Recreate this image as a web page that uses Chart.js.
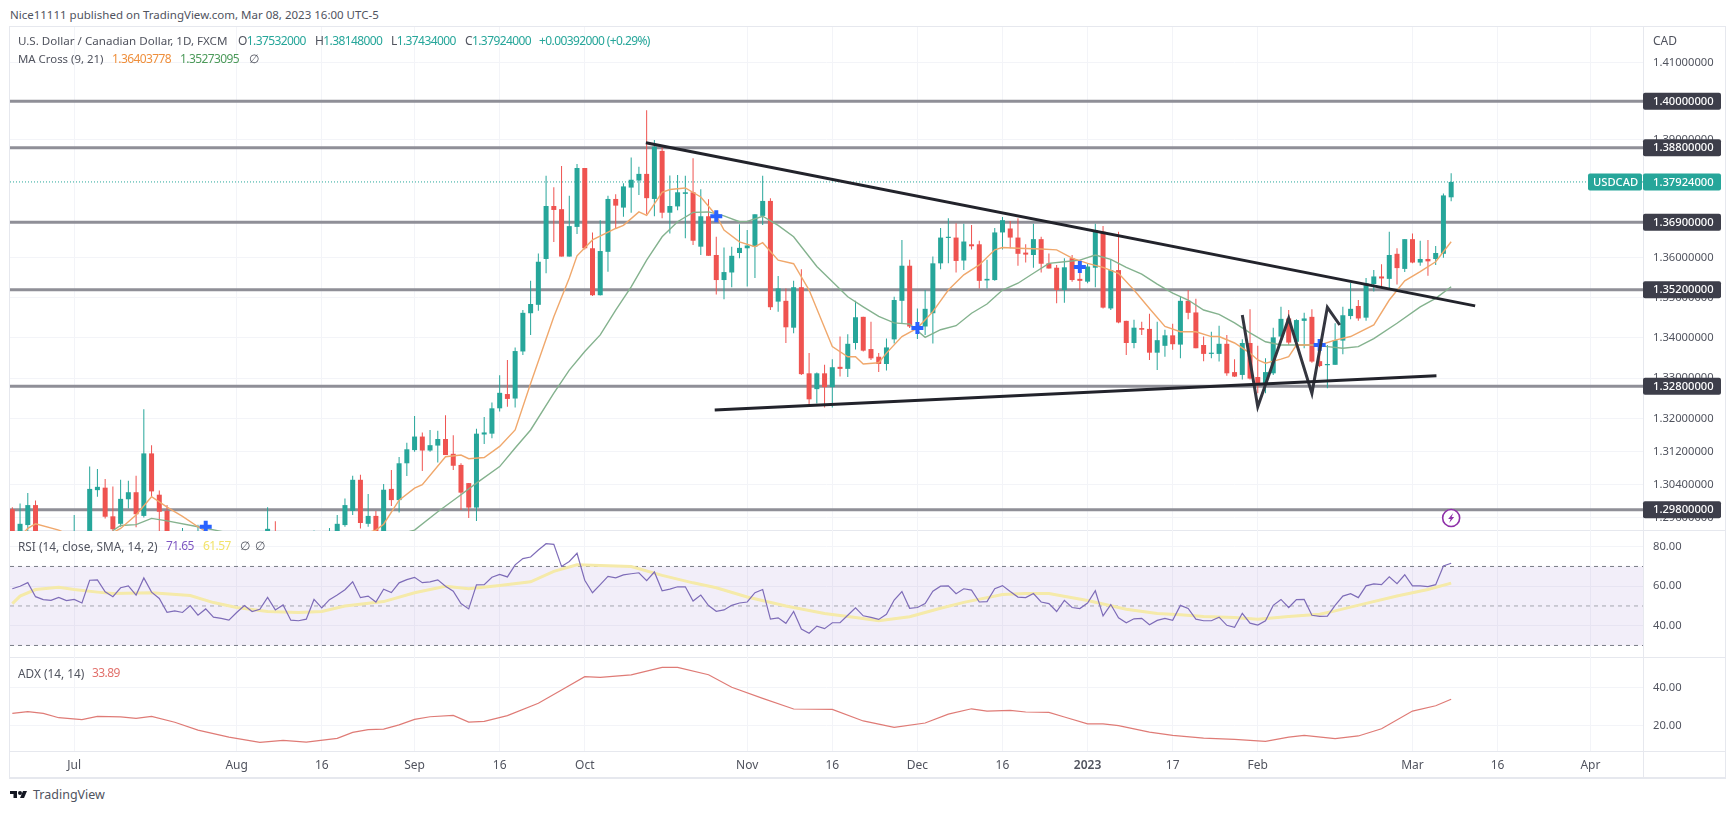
<!DOCTYPE html>
<html lang="en">
<head>
<meta charset="UTF-8" />
<title>USDCAD 1D</title>
<script src="https://cdn.jsdelivr.net/npm/chart.js@4"></script>
<style>
  html, body { margin: 0; background: #fff; }
  body { width: 1735px; height: 814px; position: relative; overflow: hidden; font-family: "Noto Sans", sans-serif; font-size: 12px; color: #50535e; }
  canvas { position: absolute; left: 10px; }
  .txt { position: absolute; white-space: nowrap; line-height: 16px; }
  .num { letter-spacing: -0.6px; }
  .sep { position: absolute; background: #e6e8ee; }
  .up { color: #26a69a; }
</style>
</head>
<body>
<div class="sep" style="left:9px;top:26px;width:1717px;height:1px"></div>
<div class="sep" style="left:9px;top:26px;width:1px;height:752px"></div>
<div class="sep" style="left:1725px;top:26px;width:1px;height:752px"></div>
<div class="sep" style="left:9px;top:777px;width:1717px;height:2px"></div>
<div class="sep" style="left:1643px;top:26px;width:1px;height:752px"></div>
<div class="sep" style="left:9px;top:530px;width:1717px;height:1px"></div>
<div class="sep" style="left:9px;top:657px;width:1717px;height:1px"></div>
<div class="sep" style="left:9px;top:751px;width:1717px;height:1px"></div>

<canvas id="priceChart" width="1715" height="504" style="top:27px"></canvas>
<canvas id="rsiChart" width="1715" height="126" style="top:531px"></canvas>
<canvas id="adxChart" width="1715" height="121" style="top:657px"></canvas>

<div class="txt" style="left:10px;top:7px;font-size:11.5px">Nice11111 published on TradingView.com, Mar 08, 2023 16:00 UTC-5</div>
<div class="txt" style="left:18px;top:33px;font-size:11.6px">U.S. Dollar / Canadian Dollar, 1D, FXCM</div>
<div class="txt num" style="left:238px;top:33px">O<span class="up">1.37532000</span></div>
<div class="txt num" style="left:315px;top:33px">H<span class="up">1.38148000</span></div>
<div class="txt num" style="left:391px;top:33px">L<span class="up">1.37434000</span></div>
<div class="txt num" style="left:465px;top:33px">C<span class="up">1.37924000</span></div>
<div class="txt up num" style="left:539px;top:33px">+0.00392000 (+0.29%)</div>
<div class="txt" style="left:18px;top:51px;font-size:11.4px">MA Cross (9, 21)</div>
<div class="txt num" style="left:112px;top:51px;color:#ef8f3c">1.36403778</div>
<div class="txt num" style="left:180px;top:51px;color:#4c9a5a">1.35273095</div>
<div class="txt" style="left:249px;top:51px">∅</div>
<div class="txt" style="left:1653px;top:33px">CAD</div>
<div class="txt" style="left:18px;top:538px;font-size:11.8px">RSI (14, close, SMA, 14, 2)</div>
<div class="txt num" style="left:166px;top:538px;color:#7e57c2">71.65</div>
<div class="txt num" style="left:203px;top:538px;color:#f2e36b">61.57</div>
<div class="txt" style="left:240px;top:538px">∅</div>
<div class="txt" style="left:255px;top:538px">∅</div>
<div class="txt" style="left:18px;top:665px;font-size:11.8px">ADX (14, 14)</div>
<div class="txt num" style="left:92px;top:665px;color:#e2716c">33.89</div>
<svg style="position:absolute;left:10px;top:788px" width="18" height="14" viewBox="0 0 36 28"><path fill="#131722" d="M14 6H0v6h7v8h7V6Z"/><path fill="#131722" d="M28 20h-8l6-14h8l-6 14Z"/><circle fill="#131722" cx="20" cy="10" r="4"/></svg>
<div class="txt" style="left:33px;top:787px;font-size:12.5px">TradingView</div>

<script>
const openPrice = [
  1.2981,1.2900,1.2943,1.2991,1.2890,1.2860,1.2900,1.2850,1.2870,1.2920,
  1.2890,1.3027,1.3033,1.2964,1.2946,1.3005,1.3022,1.2965,1.3116,1.3016,
  1.2977,1.2880,1.2850,1.2920,1.2860,1.2900,1.2840,1.2810,1.2840,1.2800,
  1.2830,1.2870,1.2850,1.2870,1.2920,1.2880,1.2850,1.2870,1.2900,1.2870,
  1.2910,1.2880,1.2915,1.2943,1.2977,1.3052,1.2946,1.2965,1.2915,1.3030,
  1.3003,1.3092,1.3124,1.3157,1.3123,1.3135,1.3151,1.3115,1.3088,1.3044,
  1.2985,1.3162,1.3164,1.3226,1.3261,1.3250,1.3366,1.3461,1.3482,1.3597,
  1.3731,1.3723,1.3603,1.3678,1.3828,1.3624,1.3506,1.3615,1.3749,1.3727,
  1.3778,1.3796,1.3813,1.3749,1.3872,1.3714,1.3730,1.3762,1.3766,1.3628,
  1.3705,1.3607,1.3544,1.3563,1.3612,1.3624,1.3628,1.3706,1.3744,1.3490,
  1.3492,1.3425,1.3526,1.3312,1.3273,1.3312,1.3278,1.3328,1.3323,1.3387,
  1.3452,1.3372,1.3353,1.3335,1.3396,1.3492,1.3580,1.3422,1.3428,1.3461,
  1.3586,1.3650,1.3651,1.3593,1.3634,1.3634,1.3543,1.3544,1.3664,1.3674,
  1.3651,1.3613,1.3607,1.3647,1.3586,1.3575,1.3519,1.3599,1.3547,1.3540,
  1.3575,1.3666,1.3473,1.3569,1.3442,1.3387,1.3424,1.3422,1.3363,1.3380,
  1.3406,1.3383,1.3492,1.3463,1.3382,1.3360,1.3360,1.3385,1.3315,1.3308,
  1.3387,1.3303,1.3288,1.3312,1.3403,1.3448,1.3390,1.3442,1.3452,1.3342,
  1.3332,1.3333,1.3393,1.3454,1.3479,1.3450,1.3534,1.3553,1.3547,1.3610,
  1.3572,1.3647,1.3588,1.3597,1.3597,1.3610,1.37532
];
const highPrice = [
  1.2986,1.2995,1.3020,1.3002,1.2925,1.2915,1.2920,1.2928,1.2967,1.2925,
  1.3084,1.3078,1.3054,1.3036,1.3052,1.3050,1.3062,1.3224,1.3136,1.3026,
  1.2991,1.2905,1.2936,1.2925,1.2944,1.2928,1.2890,1.2870,1.2880,1.2860,
  1.2895,1.2915,1.2900,1.2986,1.2952,1.2910,1.2895,1.2920,1.2925,1.2930,
  1.2925,1.2936,1.2967,1.3007,1.3062,1.3064,1.3018,1.2977,1.3042,1.3076,
  1.3107,1.3142,1.3207,1.3167,1.3173,1.3171,1.3209,1.3160,1.3092,1.3044,
  1.3176,1.3205,1.3240,1.3307,1.3345,1.3376,1.3469,1.3542,1.3611,1.3808,
  1.3779,1.3833,1.3757,1.3838,1.3828,1.3664,1.3695,1.3757,1.3761,1.3789,
  1.3855,1.3831,1.3977,1.3900,1.3883,1.3809,1.3810,1.3808,1.3853,1.3774,
  1.3748,1.3653,1.3626,1.3628,1.3685,1.3670,1.3710,1.3808,1.3751,1.3554,
  1.3523,1.3542,1.3571,1.3362,1.3314,1.3333,1.3347,1.3403,1.3409,1.3492,
  1.3452,1.3440,1.3362,1.3398,1.3502,1.3645,1.3595,1.3473,1.3519,1.3603,
  1.3675,1.3700,1.3687,1.3686,1.3683,1.3643,1.3595,1.3675,1.3703,1.3693,
  1.3700,1.3634,1.3686,1.3653,1.3611,1.3582,1.3599,1.3607,1.3595,1.3586,
  1.3686,1.3680,1.3595,1.3666,1.3442,1.3445,1.3440,1.3460,1.3440,1.3420,
  1.3435,1.3502,1.3519,1.3497,1.3403,1.3415,1.3430,1.3407,1.3347,1.3396,
  1.3471,1.3380,1.3349,1.3425,1.3477,1.3469,1.3446,1.3462,1.3471,1.3390,
  1.3382,1.3436,1.3477,1.3537,1.3494,1.3549,1.3569,1.3584,1.3666,1.3624,
  1.3647,1.3661,1.3643,1.3645,1.3630,1.3763,1.38148
];
const lowPrice = [
  1.2870,1.2880,1.2925,1.2870,1.2840,1.2820,1.2840,1.2830,1.2810,1.2850,
  1.2870,1.3011,1.2959,1.2925,1.2939,1.2983,1.2938,1.2961,1.3011,1.2925,
  1.2860,1.2830,1.2830,1.2840,1.2835,1.2820,1.2790,1.2770,1.2790,1.2770,
  1.2800,1.2830,1.2800,1.2840,1.2850,1.2830,1.2810,1.2840,1.2850,1.2840,
  1.2860,1.2860,1.2900,1.2939,1.2967,1.2935,1.2939,1.2900,1.2900,1.2989,
  1.2973,1.3061,1.3120,1.3073,1.3120,1.3094,1.3112,1.3076,1.2979,1.2960,
  1.2953,1.3139,1.3153,1.3218,1.3230,1.3228,1.3357,1.3407,1.3467,1.3561,
  1.3640,1.3603,1.3603,1.3660,1.3621,1.3504,1.3505,1.3565,1.3674,1.3704,
  1.3714,1.3759,1.3710,1.3705,1.3700,1.3661,1.3720,1.3649,1.3632,1.3607,
  1.3605,1.3508,1.3496,1.3526,1.3599,1.3528,1.3549,1.3683,1.3469,1.3465,
  1.3387,1.3411,1.3308,1.3234,1.3238,1.3228,1.3228,1.3304,1.3303,1.3371,
  1.3366,1.3345,1.3315,1.3319,1.3386,1.3436,1.3424,1.3397,1.3407,1.3386,
  1.3571,1.3586,1.3563,1.3569,1.3621,1.3523,1.3523,1.3542,1.3621,1.3624,
  1.3580,1.3588,1.3575,1.3563,1.3573,1.3486,1.3487,1.3540,1.3519,1.3536,
  1.3526,1.3473,1.3469,1.3436,1.3357,1.3374,1.3407,1.3345,1.3320,1.3353,
  1.3370,1.3349,1.3446,1.3374,1.3342,1.3349,1.3341,1.3306,1.3303,1.3297,
  1.3297,1.3263,1.3263,1.3308,1.3390,1.3382,1.3387,1.3374,1.3338,1.3327,
  1.3275,1.3333,1.3359,1.3446,1.3442,1.3442,1.3515,1.3523,1.3523,1.3533,
  1.3564,1.3586,1.3580,1.3555,1.3582,1.3600,1.37434
];
const closePrice = [
  1.2890,1.2946,1.2991,1.2890,1.2860,1.2900,1.2850,1.2910,1.2920,1.2870,
  1.3030,1.3035,1.2963,1.2933,1.3006,1.3022,1.2969,1.3116,1.3024,1.2975,
  1.2880,1.2850,1.2920,1.2860,1.2900,1.2840,1.2810,1.2840,1.2800,1.2830,
  1.2870,1.2850,1.2880,1.2934,1.2880,1.2850,1.2870,1.2900,1.2870,1.2910,
  1.2880,1.2920,1.2946,1.2991,1.3052,1.2948,1.2965,1.2915,1.3028,1.3003,
  1.3092,1.3126,1.3157,1.3123,1.3136,1.3151,1.3112,1.3086,1.3021,1.2985,
  1.3164,1.3167,1.3226,1.3264,1.3249,1.3367,1.3462,1.3484,1.3590,1.3731,
  1.3721,1.3603,1.3680,1.3828,1.3624,1.3506,1.3617,1.3749,1.3732,1.3781,
  1.3798,1.3813,1.3751,1.3883,1.3714,1.3731,1.3766,1.3766,1.3643,1.3705,
  1.3605,1.3544,1.3564,1.3605,1.3625,1.3631,1.3710,1.3744,1.3476,1.3523,
  1.3426,1.3526,1.3310,1.3248,1.3312,1.3278,1.3327,1.3323,1.3385,1.3451,
  1.3368,1.3349,1.3335,1.3376,1.3494,1.3580,1.3428,1.3428,1.3472,1.3586,
  1.3651,1.3653,1.3592,1.3641,1.3629,1.3542,1.3547,1.3664,1.3695,1.3651,
  1.3610,1.3608,1.3647,1.3585,1.3573,1.3519,1.3576,1.3544,1.3542,1.3578,
  1.3670,1.3475,1.3569,1.3438,1.3387,1.3425,1.3420,1.3363,1.3394,1.3406,
  1.3384,1.3492,1.3462,1.3374,1.3360,1.3363,1.3385,1.3312,1.3304,1.3387,
  1.3299,1.3288,1.3315,1.3401,1.3447,1.3388,1.3444,1.3448,1.3341,1.3330,
  1.3335,1.3394,1.3456,1.3472,1.3448,1.3536,1.3553,1.3548,1.3607,1.3574,
  1.3647,1.3588,1.3597,1.3591,1.3612,1.3758,1.37924
];

const ma9Bars = [1,2,3,6,9,13,14,16,18,20,22,24,25,35,46,47,48,50,52,53,56,58,59,61,63,65,67,70,72,73,75,78,79,81,82,84,85,87,89,91,92,94,96,97,99,101,103,106,108,109,110,112,113,115,117,119,121,123,125,127,128,130,133,135,137,139,141,143,145,147,149,151,153,155,156,158,160,161,162,164,165,166,169,171,173,176,178,180,182,184,186];
const ma9Values = [1.2915,1.2935,1.2946,1.2931,1.2905,1.2925,1.2935,1.2967,1.3011,1.2986,1.2964,1.2939,1.2928,1.2860,1.2925,1.2931,1.2945,1.3003,1.3032,1.3040,1.3108,1.3112,1.3103,1.3106,1.3133,1.3173,1.3287,1.3452,1.3549,1.3605,1.3645,1.3674,1.3682,1.3716,1.3707,1.3766,1.3773,1.3777,1.3754,1.3707,1.3670,1.3640,1.3628,1.3638,1.3594,1.3585,1.3519,1.3378,1.3353,1.3353,1.3335,1.3338,1.3362,1.3403,1.3424,1.3465,1.3519,1.3557,1.3582,1.3620,1.3626,1.3624,1.3622,1.3620,1.3599,1.3586,1.3576,1.3561,1.3519,1.3473,1.3428,1.3415,1.3415,1.3403,1.3403,1.3387,1.3362,1.3345,1.3337,1.3347,1.3353,1.3382,1.3382,1.3394,1.3403,1.3432,1.3494,1.3542,1.3565,1.3590,1.36404];
const ma21Bars = [13,14,16,18,20,24,27,40,52,55,58,60,63,65,67,70,72,74,76,78,80,82,84,86,88,90,92,94,95,97,99,101,104,108,110,112,114,116,118,120,122,124,126,128,130,132,134,136,138,140,142,144,146,148,150,152,154,156,158,160,162,164,168,170,172,174,176,179,182,184,186];
const ma21Values = [1.2930,1.2942,1.2944,1.2959,1.2953,1.2939,1.2928,1.2870,1.2931,1.2975,1.3016,1.3044,1.3084,1.3129,1.3173,1.3263,1.3320,1.3366,1.3407,1.3469,1.3527,1.3594,1.3653,1.3691,1.3715,1.3716,1.3706,1.3691,1.3692,1.3705,1.3682,1.3653,1.3578,1.3502,1.3477,1.3453,1.3437,1.3434,1.3401,1.3420,1.3430,1.3461,1.3484,1.3519,1.3536,1.3561,1.3586,1.3590,1.3594,1.3607,1.3596,1.3576,1.3559,1.3534,1.3511,1.3494,1.3469,1.3458,1.3437,1.3412,1.3390,1.3382,1.3382,1.3378,1.3374,1.3378,1.3398,1.3436,1.3477,1.3498,1.35273];

const rsiValues = [
  58.7,60,61.8,54.7,53.2,52.8,54.3,52.7,53.3,51.5,
  63,63.2,57.2,54.7,59.2,60.2,55.5,64.2,57,53.8,
  46.8,47.5,46.7,50.2,45.3,48.5,44.3,43.7,42.8,46.7,
  50.2,47.2,48.3,54.3,48,50.5,42.8,42.5,43.3,53.3,
  49,53.2,55.5,58.2,62.2,54.2,55,52,58.5,56.8,
  61.7,63.3,64.5,61.8,62.2,63.2,60,57.5,51.2,48.5,
  60.7,60.8,64.5,66,64.7,70.8,74,74.8,78.3,81.5,
  81.2,70,72.5,76.7,63,56.7,60.8,65,64.2,65.7,
  66.3,66.8,62.8,67.2,57.7,58.5,59.7,59.7,52.5,55.5,
  50.2,47.3,48,50.3,51.5,52,56.7,58.3,43.3,44,
  41.2,47.2,38.3,36.2,39.8,38.5,41.5,41.5,45.3,49,
  45,44.2,43.2,45.8,53,57.3,48.8,49.2,51.2,57.5,
  60,60.2,56.2,58.7,58,52,52.2,58.7,60.3,57.3,
  54.5,54.2,56.3,52,51.2,47.2,52.8,49.2,48.7,51.5,
  57.7,45,50.7,44,41.5,43.5,43.7,40.5,42.7,43.7,
  42.7,50.3,48.7,43.3,42.5,42.5,44.3,40.2,39.2,46.3,
  41.3,40.3,42.5,50.3,53.3,49.2,53.2,53.3,45.3,44.7,
  44.8,50.3,55,56.2,54.2,60.2,61.2,60.8,64.7,61.3,
  65.8,60.2,60.2,59.8,60.8,70.2,71.65
];
const rsiSmaBars = [0,1,3,6,8,11,13,18,23,26,29,33,37,40,43,48,52,56,59,63,67,70,73,76,80,84,88,91,95,100,105,109,112,116,120,123,128,131,134,139,144,148,151,154,158,161,165,169,171,175,179,183,186];
const rsiSmaValues = [51.2,55,58.3,59.5,58.3,57,56.3,56.7,55.3,51.7,49.2,47.2,46.7,47.2,50,52.2,56.7,60,58.7,60.3,62.2,67.5,70.8,70.5,70,65.5,61.7,59.2,54.5,50,46.2,44.2,42.5,44.5,48.8,51.8,55.8,56.3,56.3,52.8,48.3,46.2,45.5,44.7,44.2,43.3,44.7,45.8,47.5,51.3,55,58.3,61.57];
const adxBars = [0,2,4,6,9,11,14,16,18,21,24,28,32,35,38,42,44,46,48,50,52,54,57,59,61,64,68,71,74,76,80,84,86,90,93,97,101,106,110,114,118,121,124,126,129,131,134,136,139,141,143,147,150,154,158,162,165,167,171,174,177,181,184,186];
const adxValues = [26.5,27.4,26.5,24.2,23.2,24.9,24.6,23.9,24.9,21.8,17.7,14,11.2,12.3,11.4,13.3,16.5,17.9,18.2,20.4,23.3,24.7,25.4,21.9,22.3,25.3,31.8,38.8,45.8,45.4,46.8,50.7,50.7,46.8,40.2,34.4,28.8,28.6,22.5,19.1,21.4,26.1,28.9,27.7,28.1,27.2,27,24.6,21,21,20,16.6,14.9,13.5,12.8,11.8,14,14.9,13.2,14.6,18.4,27.7,30.5,33.89];

const levelPrices = [1.4, 1.388, 1.369, 1.352, 1.328, 1.298];
const lastPrice = 1.37924;
const priceTicks = [1.41,1.40,1.39,1.36,1.35,1.34,1.33,1.32,1.312,1.304,1.296];
const rsiTicks = [80,60,40];
const rsiBands = [70,50,30];
const adxTicks = [40,20];
const timeTickBars = [8,29,40,52,63,74,95,106,117,128,139,150,161,181,192,204];
const timeTickLabels = ['Jul','Aug','16','Sep','16','Oct','Nov','16','Dec','16','2023','17','Feb','Mar','16','Apr'];
const crossBars = [25,91,117,138,169];
const crossPrices = [1.2939,1.3705,1.3424,1.3577,1.3382];
const trendTopBars = [81.9,189.1];
const trendTopPrices = [1.3893,1.34794];
const trendLowBars = [90.8,184.1];
const trendLowPrices = [1.32218,1.33062];
const zigzagBars = [159,161,165,168,170,171.6];
const zigzagPrices = [1.34567,1.32298,1.34485,1.32627,1.34758,1.34317];

const xLeft = -0.3, xRight = 210.8;
const GREEN = '#26a69a', RED = '#ef5350', GRID = '#f3f4f8', TEXT = '#50535e';
const AXIS_FONT = 11.2;

const pts = (xs, ys) => xs.map((x, i) => ({ x, y: ys[i] }));
const allBars = closePrice.map((_, i) => i);

function lineSet(data, color, width, order, dash) {
  return { type: 'line', data, borderColor: color, borderWidth: width, borderDash: dash || [], pointRadius: 0, tension: 0, order, fill: false };
}

function xAxis(showLabels) {
  return {
    type: 'linear', min: xLeft, max: xRight, offset: false, bounds: 'data',
    grid: { color: GRID, drawTicks: false, offset: false },
    border: { display: false },
    afterBuildTicks: s => { s.ticks = timeTickBars.map(value => ({ value })); },
    afterFit: s => { s.height = showLabels ? 27 : 0; s.paddingLeft = 0; s.paddingRight = 0; },
    ticks: {
      display: showLabels, autoSkip: false, maxRotation: 0, padding: 7, color: TEXT,
      font: c => ({ family: '"Noto Sans"', size: 12, weight: c.tick && c.tick.value === 139 ? '600' : 'normal' }),
      callback: v => timeTickLabels[timeTickBars.indexOf(v)]
    }
  };
}

function yAxis(type, min, max, tickValues, digits) {
  return {
    type, min, max, position: 'right', bounds: 'data',
    grid: { color: GRID, drawTicks: false },
    border: { display: false },
    afterBuildTicks: s => { s.ticks = tickValues.map(value => ({ value })); },
    afterFit: s => { s.width = 82; s.paddingTop = 0; s.paddingBottom = 0; },
    ticks: {
      autoSkip: false, padding: 10, color: TEXT, font: { family: '"Noto Sans"', size: AXIS_FONT },
      callback: v => Number(v).toFixed(digits)
    }
  };
}

const baseOptions = {
  responsive: false, animation: false, events: [],
  layout: { padding: 0, autoPadding: false },
  plugins: { legend: { display: false }, tooltip: { enabled: false } }
};

// price tags on the right axis and the little event marker
const overlayPlugin = {
  id: 'overlay',
  afterDraw(chart) {
    const { ctx, scales: { x, y }, chartArea } = chart;
    const right = chartArea.right;
    const tag = (left, width, price, label, fill) => {
      const py = y.getPixelForValue(price);
      ctx.fillStyle = fill;
      ctx.beginPath();
      ctx.roundRect(left, py - 8.5, width, 17, 2);
      ctx.fill();
      ctx.fillStyle = '#fff';
      ctx.textBaseline = 'middle';
      ctx.textAlign = 'left';
      ctx.font = '500 ' + AXIS_FONT + 'px "Noto Sans"';
      ctx.fillText(label, left + (label === 'USDCAD' ? 5 : 10), py + 0.5);
    };
    ctx.save();
    levelPrices.forEach(p => tag(right, 78, p, p.toFixed(8), '#3d3e4a'));
    tag(right - 55, 54, lastPrice, 'USDCAD', GREEN);
    tag(right, 78, lastPrice, lastPrice.toFixed(8), GREEN);

    const bx = x.getPixelForValue(186), by = y.getPixelForValue(1.2960);
    ctx.beginPath();
    ctx.arc(bx, by, 8.5, 0, Math.PI * 2);
    ctx.fillStyle = '#fff';
    ctx.fill();
    ctx.lineWidth = 1.6;
    ctx.strokeStyle = '#8e2fa8';
    ctx.stroke();
    ctx.fillStyle = '#8e2fa8';
    ctx.beginPath();
    ctx.moveTo(bx + 2, by - 5);
    ctx.lineTo(bx - 3, by + 1);
    ctx.lineTo(bx - 0.5, by + 1);
    ctx.lineTo(bx - 2, by + 5);
    ctx.lineTo(bx + 3, by - 1);
    ctx.lineTo(bx + 0.5, by - 1);
    ctx.closePath();
    ctx.fill();
    ctx.restore();
  }
};

const candleColor = c => closePrice[c.dataIndex] >= openPrice[c.dataIndex] ? GREEN : RED;

new Chart(document.getElementById('priceChart'), {
  type: 'bar',
  data: {
    datasets: [
      ...levelPrices.map(p => lineSet(pts([xLeft, xRight], [p, p]), '#8f8f97', 3, 20)),
      lineSet(pts([xLeft, xRight], [lastPrice, lastPrice]), GREEN, 1, 19, [1, 2]),
      { data: allBars.map(i => ({ x: i, y: [lowPrice[i], highPrice[i]] })), backgroundColor: candleColor, barThickness: 1, grouped: false, inflateAmount: 0, order: 12 },
      { data: allBars.map(i => ({ x: i, y: [openPrice[i], closePrice[i]] })), backgroundColor: candleColor, barThickness: 5, grouped: false, inflateAmount: 0, order: 11 },
      lineSet(pts(ma21Bars, ma21Values), '#84b28e', 1.4, 6),
      lineSet(pts(ma9Bars, ma9Values), '#f0a86c', 1.4, 5),
      { type: 'line', data: pts(crossBars, crossPrices), showLine: false, pointStyle: 'cross', pointRadius: 6, pointBorderWidth: 4, pointBorderColor: '#2962ff', order: 4 },
      lineSet(pts(zigzagBars, zigzagPrices), '#34363f', 3, 3),
      lineSet(pts(trendTopBars, trendTopPrices), '#22232b', 3, 2),
      lineSet(pts(trendLowBars, trendLowPrices), '#22232b', 3, 2)
    ]
  },
  options: {
    ...baseOptions,
    scales: { x: xAxis(false), y: yAxis('logarithmic', 1.29288, 1.4194, priceTicks, 8) }
  },
  plugins: [overlayPlugin]
});

new Chart(document.getElementById('rsiChart'), {
  type: 'line',
  data: {
    datasets: [
      { ...lineSet(pts([xLeft, xRight], [rsiBands[0], rsiBands[0]]), '#787b86', 1, 12, [4, 4]), fill: { target: { value: rsiBands[2] }, above: 'rgba(126,87,194,0.1)', below: 'rgba(126,87,194,0.1)' } },
      lineSet(pts([xLeft, xRight], [rsiBands[1], rsiBands[1]]), '#a5a7b0', 1, 11, [4, 4]),
      lineSet(pts([xLeft, xRight], [rsiBands[2], rsiBands[2]]), '#787b86', 1, 10, [4, 4]),
      lineSet(pts(rsiSmaBars, rsiSmaValues), '#f5eaa9', 3, 6),
      lineSet(pts(allBars, rsiValues), '#7e6cb8', 1.2, 5)
    ]
  },
  options: {
    ...baseOptions,
    scales: { x: xAxis(false), y: yAxis('linear', 24.15, 87.95, rsiTicks, 2) }
  }
});

new Chart(document.getElementById('adxChart'), {
  type: 'line',
  data: { datasets: [lineSet(pts(adxBars, adxValues), '#df7b76', 1.2, 5)] },
  options: {
    ...baseOptions,
    scales: { x: xAxis(true), y: yAxis('linear', 6.68, 56.16, adxTicks, 2) }
  }
});
</script>
</body>
</html>
